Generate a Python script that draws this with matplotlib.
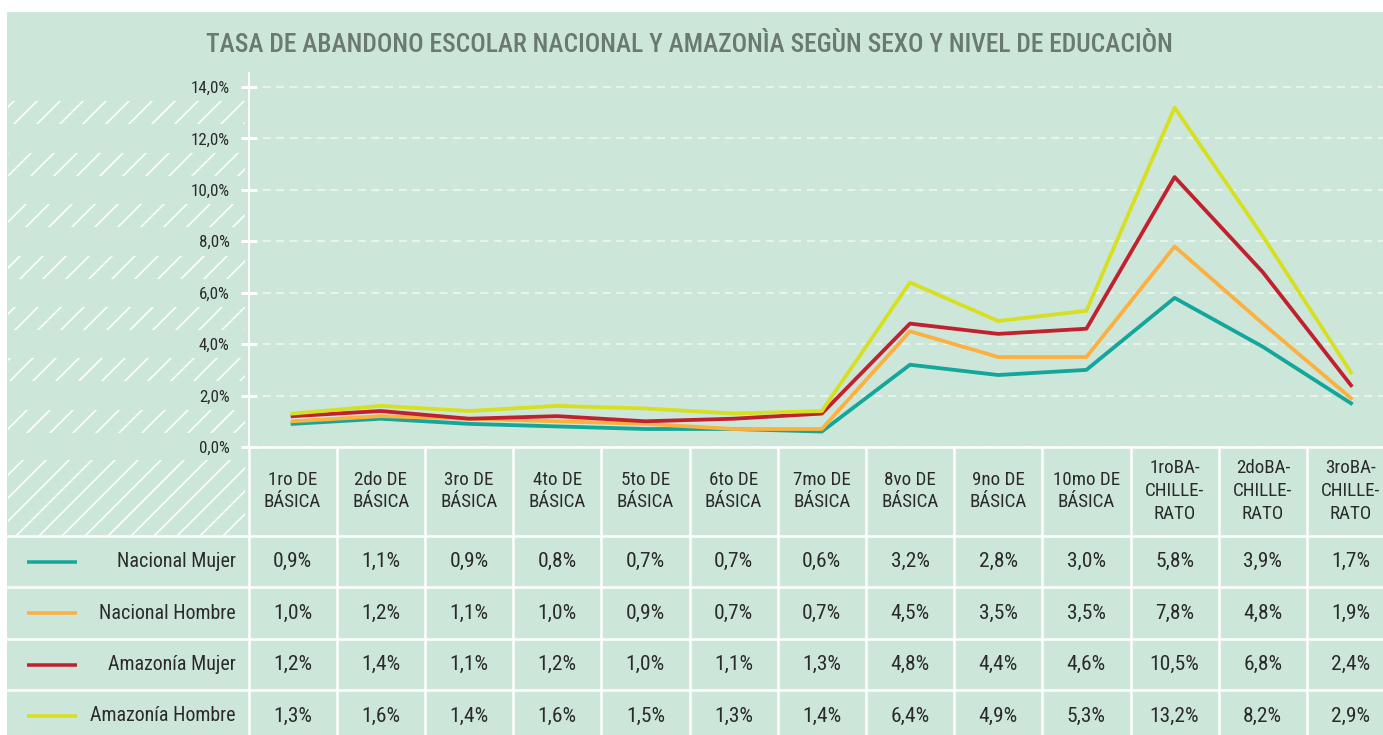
import numpy as np
import matplotlib.pyplot as plt
from matplotlib.patches import Rectangle

plt.rcParams['font.family'] = ['Roboto Condensed', 'Liberation Sans Narrow', 'DejaVu Sans']
plt.rcParams['font.stretch'] = 'condensed'

# datos
niveles = ['1ro DE\nBÁSICA', '2do DE\nBÁSICA', '3ro DE\nBÁSICA', '4to DE\nBÁSICA',
           '5to DE\nBÁSICA', '6to DE\nBÁSICA', '7mo DE\nBÁSICA', '8vo DE\nBÁSICA',
           '9no DE\nBÁSICA', '10mo DE\nBÁSICA', '1roBA-\nCHILLE-\nRATO',
           '2doBA-\nCHILLE-\nRATO', '3roBA-\nCHILLE-\nRATO']
series = ['Nacional Mujer', 'Nacional Hombre', 'Amazonía Mujer', 'Amazonía Hombre']
nacional_mujer = [0.9, 1.1, 0.9, 0.8, 0.7, 0.7, 0.6, 3.2, 2.8, 3.0, 5.8, 3.9, 1.7]
nacional_hombre = [1.0, 1.2, 1.1, 1.0, 0.9, 0.7, 0.7, 4.5, 3.5, 3.5, 7.8, 4.8, 1.9]
amazonia_mujer = [1.2, 1.4, 1.1, 1.2, 1.0, 1.1, 1.3, 4.8, 4.4, 4.6, 10.5, 6.8, 2.4]
amazonia_hombre = [1.3, 1.6, 1.4, 1.6, 1.5, 1.3, 1.4, 6.4, 4.9, 5.3, 13.2, 8.2, 2.9]
valores = [nacional_mujer, nacional_hombre, amazonia_mujer, amazonia_hombre]
colores = ['#13a69a', '#fcb040', '#c1212e', '#d7df21']

titulo = 'TASA DE ABANDONO ESCOLAR NACIONAL Y AMAZONÌA SEGÙN SEXO Y NIVEL DE EDUCACIÒN'

# medidas en pixeles
W, H, DPI = 1383, 735, 138.3
X0, CW = 248.5, 88.2          # eje y y ancho de columna
Y0, YTOP, PXPCT = 447, 73, 25.71
HDR, RH = 536, 51.4           # fin de cabecera, alto de fila
XL, YP = 8, 13
BG = '#cce7da'
TXT = '#2b2b2b'


def px(v):
    return v * 72 / DPI


def fmt(v):
    return ('%.1f%%' % v).replace('.', ',')


plt.rcParams['hatch.linewidth'] = px(1.6)

fig = plt.figure(figsize=(W / DPI, H / DPI), dpi=DPI, facecolor='white')

# fondo en coordenadas de pixel
bg = fig.add_axes([0, 0, 1, 1])
bg.set_xlim(0, W)
bg.set_ylim(H, 0)
bg.axis('off')
bg.add_patch(Rectangle((XL, YP), W - XL, H - YP, color=BG, zorder=0))

# franjas rayadas a la izquierda
for k in range(7):
    yc = Y0 - (2 * k + 1) * PXPCT
    bg.add_patch(Rectangle((XL, yc - 11.5), 245 - XL, 23, hatch='//',
                           fc='none', ec='white', lw=0, zorder=1))
bg.add_patch(Rectangle((XL, 460), 245 - XL, HDR - 460, hatch='//',
                       fc='none', ec='white', lw=0, zorder=1))

bg.text(689, 45, titulo, ha='center', va='center', color='#6b7a71',
        fontsize=px(25.5), fontweight='medium')

# lineas de la tabla
for k in range(14):
    bg.plot([X0 + k * CW] * 2, [Y0, H], color='white', lw=px(2.5), zorder=2)
for i in range(4):
    y = HDR + i * RH
    bg.plot([XL, W], [y, y], color='white', lw=px(2.5), zorder=2)

# cabecera
for i, lab in enumerate(niveles):
    bg.text(X0 + (i + 0.5) * CW, 491, lab, ha='center', va='center',
            fontsize=px(19), color=TXT, linespacing=1.35, zorder=3)

# filas
for r, (nom, vals, c) in enumerate(zip(series, valores, colores)):
    yc = HDR + (r + 0.5) * RH
    bg.plot([27, 77], [yc, yc], color=c, lw=px(3.5), solid_capstyle='butt', zorder=3)
    bg.text(236, yc, nom, ha='right', va='center', fontsize=px(20), color=TXT, zorder=3)
    for i, v in enumerate(vals):
        bg.text(X0 + (i + 0.5) * CW, yc, fmt(v), ha='center', va='center',
                fontsize=px(21.5), color=TXT, zorder=3)

# grafico de lineas
ax = fig.add_axes([X0 / W, (H - Y0) / H, 13 * CW / W, (Y0 - YTOP) / H])
ax.set_facecolor('none')
x = np.arange(len(niveles))
for vals, c in zip(valores, colores):
    ax.plot(x, vals, color=c, lw=px(3.8), solid_joinstyle='round', zorder=3)

ax.set_xlim(-0.5, 12.5)
ax.set_ylim(0, (Y0 - YTOP) / PXPCT)
yt = np.arange(0, 15, 2)
ax.set_yticks(yt)
ax.set_yticklabels([fmt(v) for v in yt])
ax.set_xticks([])
ax.yaxis.grid(True, color='#eef6f2', ls=(0, (5, 3.5)), lw=px(1.6))
ax.set_axisbelow(True)
ax.tick_params(axis='y', direction='inout', length=px(16), width=px(3),
               color='white', pad=px(11), labelsize=px(17), labelcolor=TXT)
for s in ['top', 'right']:
    ax.spines[s].set_visible(False)
ax.spines['left'].set_color('white')
ax.spines['left'].set_linewidth(px(2))
ax.spines['bottom'].set_color('white')
ax.spines['bottom'].set_linewidth(px(2.5))

fig.savefig('out.png', dpi=DPI, facecolor='white')
